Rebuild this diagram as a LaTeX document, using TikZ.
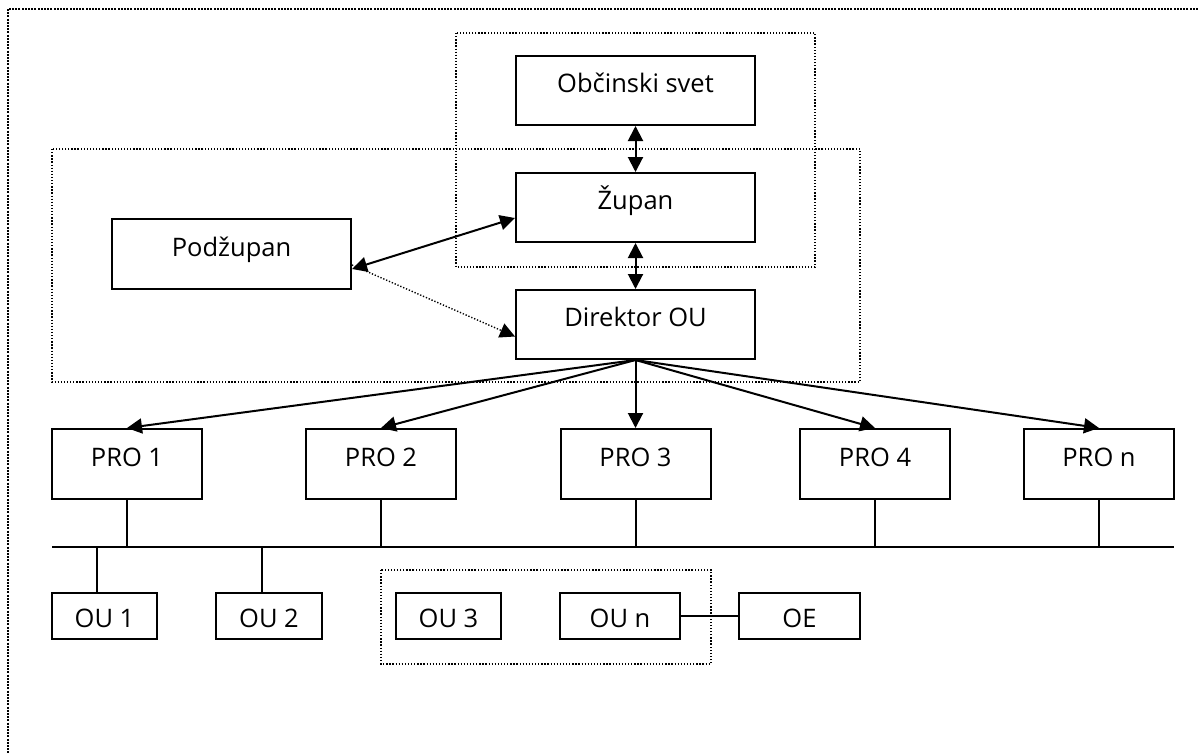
\documentclass[tikz,border=0pt]{standalone}
\usepackage{fontspec}
\setmainfont{Open Sans}
\usetikzlibrary{arrows.meta,calc}
\begin{document}
\begin{tikzpicture}[x=1pt,y=-1pt,
  box/.style={draw, line width=2pt, inner sep=0pt, font=\fontsize{25.5}{28}\selectfont},
  tallbox/.style={box, minimum height=69pt, text height=18pt, text depth=14pt},
  ubox/.style={box, minimum height=46pt, text height=23pt, text depth=0pt},
  grp/.style={line width=1.4pt, dash pattern=on 1.3pt off 1.8pt},
  frame/.style={line width=2.2pt, dash pattern=on 2pt off 1.2pt},
  conn/.style={line width=2pt},
  tip/.style={line width=2pt, -{Triangle[length=15pt,width=15pt]}},
  dtip/.style={line width=2pt, {Triangle[length=15pt,width=15pt]}-{Triangle[length=15pt,width=15pt]}}]
\useasboundingbox (0,0) rectangle (1198,753);
\clip (0,0) rectangle (1198,753);
\fill[white] (0,0) rectangle (1198,753);
% outer frame
\draw[frame] (8,9) rectangle (1230,790);
% group frames
\draw[grp] (456,33) rectangle (815,267);
\draw[grp] (52,149) rectangle (860,382);
\draw[grp] (381,570) rectangle (711,664);
% top boxes
\node[tallbox, minimum width=239pt] (obc) at (635.5,90.5) {Občinski svet};
\node[tallbox, minimum width=239pt] (zup) at (635.5,207.5) {Župan};
\node[tallbox, minimum width=239pt] (dir) at (635.5,324.5) {Direktor OU};
\node[tallbox, minimum width=239pt, minimum height=70pt] (podz) at (231.5,254) {Podžupan};
% PRO boxes
\foreach \n/\x/\t in {pro1/127/PRO 1, pro2/381/PRO 2, pro3/635.5/PRO 3, pro4/875/PRO 4, pron/1099/PRO n}
  \node[tallbox, minimum width=150pt, minimum height=70pt] (\n) at (\x,464) {\t};
% OU boxes
\node[ubox, minimum width=105pt] (ou1) at (104.5,616) {OU 1};
\node[ubox, minimum width=106pt] (ou2) at (269,616) {OU 2};
\node[ubox, minimum width=105pt] (ou3) at (448.5,616) {OU 3};
\node[ubox, minimum width=120pt] (oun) at (620,616) {OU n};
\node[ubox, minimum width=121pt] (oe) at (799.5,616) {OE};
% bus
\coordinate (busL) at (52,547);
\coordinate (busR) at (1174,547);
\draw[conn] (busL) -- (busR);
% connectors
\draw[dtip] (obc.south) -- (zup.north);
\draw[dtip] (zup.south) -- (dir.north);
\draw[dtip] ([yshift=-15pt]podz.east) -- ([yshift=-10.5pt]zup.west);
\draw[tip, line width=1.4pt, dash pattern=on 1.3pt off 1.8pt] ([yshift=-11pt]podz.east) -- ([yshift=-12pt]dir.west);
\foreach \n in {pro1,pro2,pro3,pro4,pron}
  \draw[tip] (dir.south) -- (\n.north);
\foreach \n in {pro1,pro2,pro3,pro4,pron}
  \draw[conn] (\n.south) -- (\n.south |- busL);
\draw[conn] ([xshift=-7.5pt]ou1.north) -- ([xshift=-7.5pt]ou1.north |- busL);
\draw[conn] ([xshift=-7pt]ou2.north) -- ([xshift=-7pt]ou2.north |- busL);
\draw[conn] (oun.east) -- (oe.west);
\end{tikzpicture}
\end{document}
